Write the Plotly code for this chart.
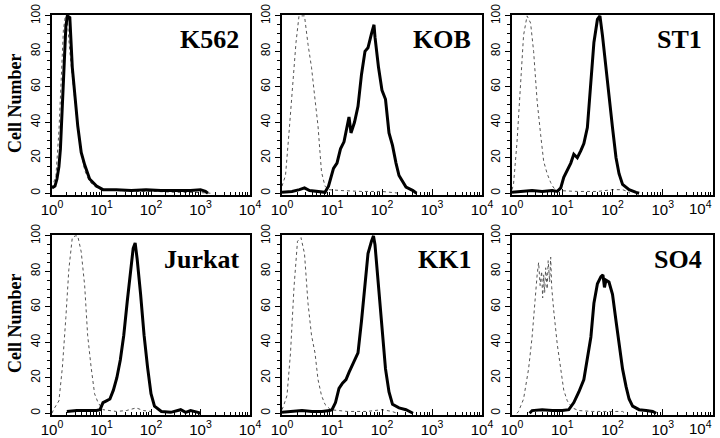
import numpy as np
import plotly.graph_objects as go

# ---------------- data (x = log10 fluorescence, y = cell number) ----------------
panel_names = ["K562", "KOB", "ST1", "Jurkat", "KK1", "SO4"]

K562_ctrl_x = [0.0, 0.08, 0.14, 0.19, 0.23, 0.27, 0.31, 0.36, 0.42, 0.5, 0.58, 0.66, 0.75, 0.85, 1.0, 1.3, 1.7, 2.1, 2.5, 2.9, 3.2]
K562_ctrl_y = [3, 10, 35, 70, 92, 100, 97, 80, 62, 42, 24, 13, 7, 4, 2, 1.5, 1, 1, 0.5, 0.5, 0]
K562_pos_x = [0.0, 0.06, 0.1, 0.14, 0.17, 0.21, 0.24, 0.28, 0.31, 0.36, 0.41, 0.47, 0.52, 0.59, 0.66, 0.76, 0.9, 1.03, 1.3, 1.6, 1.9, 2.2, 2.5, 2.8, 3.0, 3.1, 3.15]
K562_pos_y = [3, 4, 8, 15, 25, 48, 71, 94, 100, 99, 71, 53, 38, 23, 16, 8, 4, 2, 2, 1.5, 2, 1.5, 1.5, 1.5, 2, 1, 0]

KOB_ctrl_x = [0.0, 0.07, 0.14, 0.21, 0.28, 0.34, 0.4, 0.45, 0.52, 0.59, 0.66, 0.72, 0.76, 0.79, 0.86, 0.93, 1.2, 1.6, 2.0, 2.3, 2.35]
KOB_ctrl_y = [4, 10, 34, 62, 85, 100, 100, 100, 84, 71, 53, 38, 23, 12, 4, 2, 1.5, 1, 1, 0.5, 0]
KOB_pos_x = [0.0, 0.2, 0.35, 0.45, 0.55, 0.7, 0.86, 0.93, 1.03, 1.1, 1.17, 1.24, 1.31, 1.34, 1.38, 1.45, 1.52, 1.59, 1.66, 1.72, 1.79, 1.84, 1.86, 1.93, 2.0, 2.07, 2.14, 2.21, 2.28, 2.34, 2.48, 2.62, 2.69]
KOB_pos_y = [0.5, 1, 2, 3, 1.5, 1, 0.5, 4, 14, 17, 25, 29, 38, 43, 34, 40, 49, 67, 80, 82, 90, 95, 88, 71, 58, 53, 34, 27, 17, 10, 3.5, 1.5, 0]

ST1_ctrl_x = [0.0, 0.03, 0.1, 0.17, 0.23, 0.3, 0.37, 0.43, 0.5, 0.57, 0.63, 0.7, 0.77, 0.83, 0.93, 1.3, 1.7, 2.0, 2.2, 2.3, 2.35]
ST1_ctrl_y = [2, 5, 29, 61, 89, 100, 96, 80, 52, 33, 18, 11, 6, 3, 1.5, 1, 1, 2, 2, 1, 0]
ST1_pos_x = [0.0, 0.2, 0.4, 0.6, 0.8, 0.9, 0.97, 1.03, 1.1, 1.17, 1.23, 1.3, 1.37, 1.43, 1.5, 1.57, 1.63, 1.7, 1.75, 1.8, 1.87, 1.93, 2.0, 2.07, 2.13, 2.2, 2.33, 2.47, 2.53]
ST1_pos_y = [0.5, 1, 1.5, 1, 1.5, 1, 3, 9, 13, 17, 22, 20, 24, 28, 37, 61, 85, 98, 100, 89, 70, 52, 37, 20, 11, 5, 2, 0.5, 0]

Jurkat_ctrl_x = [0.0, 0.03, 0.14, 0.21, 0.28, 0.34, 0.41, 0.47, 0.52, 0.59, 0.66, 0.72, 0.79, 0.86, 0.93, 1.03, 1.3, 1.5, 1.7, 1.85, 2.0, 2.05]
Jurkat_ctrl_y = [0, 2, 7, 26, 54, 81, 99, 100, 100, 91, 72, 44, 26, 11, 6, 2, 1, 1.5, 3, 1.5, 1, 0]
Jurkat_pos_x = [0.3, 0.5, 0.7, 0.9, 0.97, 1.03, 1.1, 1.17, 1.24, 1.31, 1.38, 1.45, 1.52, 1.59, 1.64, 1.68, 1.72, 1.79, 1.86, 1.93, 2.0, 2.07, 2.21, 2.4, 2.6, 2.7, 2.8, 2.95, 3.0]
Jurkat_pos_y = [1, 1.5, 1.5, 1.5, 2, 6, 7, 8, 13, 20, 30, 44, 63, 81, 93, 96, 87, 67, 44, 26, 11, 4, 1, 0.5, 2, 0.5, 1.5, 0.5, 0]

KK1_ctrl_x = [0.0, 0.03, 0.1, 0.17, 0.24, 0.31, 0.38, 0.45, 0.52, 0.59, 0.66, 0.72, 0.79, 0.86, 0.97, 1.3, 1.7, 2.0, 2.2, 2.3]
KK1_ctrl_y = [2, 4, 10, 34, 71, 97, 99, 90, 62, 44, 34, 19, 10, 5, 2, 1, 1, 2, 1, 0]
KK1_pos_x = [0.0, 0.2, 0.4, 0.6, 0.8, 0.95, 1.0, 1.07, 1.14, 1.21, 1.28, 1.34, 1.41, 1.52, 1.59, 1.66, 1.72, 1.79, 1.83, 1.86, 1.93, 2.0, 2.07, 2.14, 2.21, 2.34, 2.48, 2.62]
KK1_pos_y = [0.5, 1, 1.5, 1, 1, 1.5, 2, 6, 14, 17, 19, 23, 27, 34, 52, 75, 90, 97, 100, 95, 71, 47, 25, 12, 5, 3, 2, 0]

SO4_ctrl_x = [0.1, 0.13, 0.23, 0.33, 0.4, 0.47, 0.5, 0.53, 0.56, 0.59, 0.61, 0.63, 0.65, 0.67, 0.7, 0.72, 0.75, 0.77, 0.79, 0.83, 0.9, 0.97, 1.03, 1.1, 1.2, 1.33, 1.6, 1.9, 2.2, 2.25]
SO4_ctrl_y = [0, 1, 8, 25, 43, 71, 78, 85, 72, 80, 65, 78, 68, 82, 70, 86, 74, 88, 71, 58, 39, 25, 13, 7, 3, 1.5, 1, 1, 1, 0]
SO4_pos_x = [0.35, 0.4, 0.6, 0.8, 1.0, 1.13, 1.23, 1.33, 1.43, 1.5, 1.57, 1.63, 1.7, 1.77, 1.81, 1.84, 1.87, 1.93, 1.97, 2.0, 2.07, 2.13, 2.2, 2.27, 2.33, 2.4, 2.53, 2.67, 2.8, 2.87]
SO4_pos_y = [0, 1.5, 2, 1.5, 1.5, 2, 6, 12, 19, 30, 43, 62, 73, 77, 78, 71, 75, 74, 70, 67, 52, 38, 25, 15, 8, 4, 2, 1.5, 1, 0]

ctrl_x = [K562_ctrl_x, KOB_ctrl_x, ST1_ctrl_x, Jurkat_ctrl_x, KK1_ctrl_x, SO4_ctrl_x]
ctrl_y = [K562_ctrl_y, KOB_ctrl_y, ST1_ctrl_y, Jurkat_ctrl_y, KK1_ctrl_y, SO4_ctrl_y]
pos_x = [K562_pos_x, KOB_pos_x, ST1_pos_x, Jurkat_pos_x, KK1_pos_x, SO4_pos_x]
pos_y = [K562_pos_y, KOB_pos_y, ST1_pos_y, Jurkat_pos_y, KK1_pos_y, SO4_pos_y]

x_tick_vals = [1, 10, 100, 1000, 10000]
x_tick_text = ["10<sup>0</sup>", "10<sup>1</sup>", "10<sup>2</sup>", "10<sup>3</sup>", "10<sup>4</sup>"]
y_tick_vals = [0, 20, 40, 60, 80, 100]
y_axis_title = "Cell Number"

# ---------------- layout ----------------
W, H = 720, 438
col_px = [(52, 250), (282, 482), (512, 713)]
row_px = [(15, 195), (235, 415)]
XFONT = dict(family="Liberation Sans, Arial", size=15, color="black")

fig = go.Figure()
minor_x = [m * 10 ** d for d in range(4) for m in range(2, 10)]

for i, name in enumerate(panel_names):
    r, c = divmod(i, 3)
    ax = "" if i == 0 else str(i + 1)
    xa, ya = "x" + ax, "y" + ax
    fig.add_trace(go.Scatter(
        x=10 ** np.array(ctrl_x[i]), y=ctrl_y[i], mode="lines",
        line=dict(color="#555", width=1, dash="dot"), xaxis=xa, yaxis=ya,
        showlegend=False, hoverinfo="skip"))
    fig.add_trace(go.Scatter(
        x=10 ** np.array(pos_x[i]), y=pos_y[i], mode="lines",
        line=dict(color="black", width=3), xaxis=xa, yaxis=ya,
        showlegend=False, hoverinfo="skip"))
    x0, x1 = col_px[c]
    y0, y1 = row_px[r]
    ttext = list(x_tick_text)
    if c == 2:
        ttext[-1] = ""  # drawn shifted left, inside the page
        fig.add_annotation(
            text=x_tick_text[-1], xref="paper", yref="paper",
            x=(x1 + 1) / W, y=1 - (y1 + 1) / H, xanchor="right", yanchor="top",
            showarrow=False, font=XFONT)
    fig.layout["xaxis" + ax] = dict(
        type="log", range=[0, 4], domain=[x0 / W, x1 / W], anchor=ya,
        automargin=False,
        showline=True, mirror=True, linecolor="black", linewidth=1.5,
        showgrid=False, zeroline=False,
        tickvals=x_tick_vals, ticktext=ttext,
        ticks="inside", ticklen=6, tickwidth=1, tickcolor="black",
        minor=dict(tickvals=minor_x, ticks="inside", ticklen=3, tickcolor="black", showgrid=False),
        tickfont=XFONT,
    )
    fig.layout["yaxis" + ax] = dict(
        range=[-1, 100.5], domain=[1 - y1 / H, 1 - y0 / H], anchor=xa,
        automargin=False,
        showline=True, mirror=True, linecolor="black", linewidth=1.5,
        showgrid=False, zeroline=False,
        tickvals=y_tick_vals, tickangle=-90,
        ticks="outside", ticklen=5, tickwidth=1, tickcolor="black",
        minor=dict(dtick=5, ticks="outside", ticklen=3, tickcolor="black", showgrid=False),
        tickfont=dict(family="Liberation Sans, Arial", size=12, color="black"),
    )
    fig.add_annotation(
        text="<b>%s</b>" % name, xref="paper", yref="paper",
        x=(x1 - 9) / W, y=1 - (y0 + 8) / H, xanchor="right", yanchor="top",
        showarrow=False,
        font=dict(family="Liberation Serif, Times New Roman", size=26, color="black"))

for r in range(2):
    y0, y1 = row_px[r]
    fig.add_annotation(
        text="<b>%s</b>" % y_axis_title, xref="paper", yref="paper",
        x=15 / W, y=1 - ((y0 + y1) / 2 - 1) / H, xanchor="center", yanchor="middle",
        textangle=-90, showarrow=False,
        font=dict(family="Liberation Serif, Times New Roman", size=18, color="black"))

fig.update_layout(
    template="none",
    width=W, height=H, margin=dict(l=0, r=0, t=0, b=0),
    paper_bgcolor="white", plot_bgcolor="white",
)

fig.write_html("out.html", config={"displayModeBar": False},
               post_script="document.body.style.margin='0px';")
